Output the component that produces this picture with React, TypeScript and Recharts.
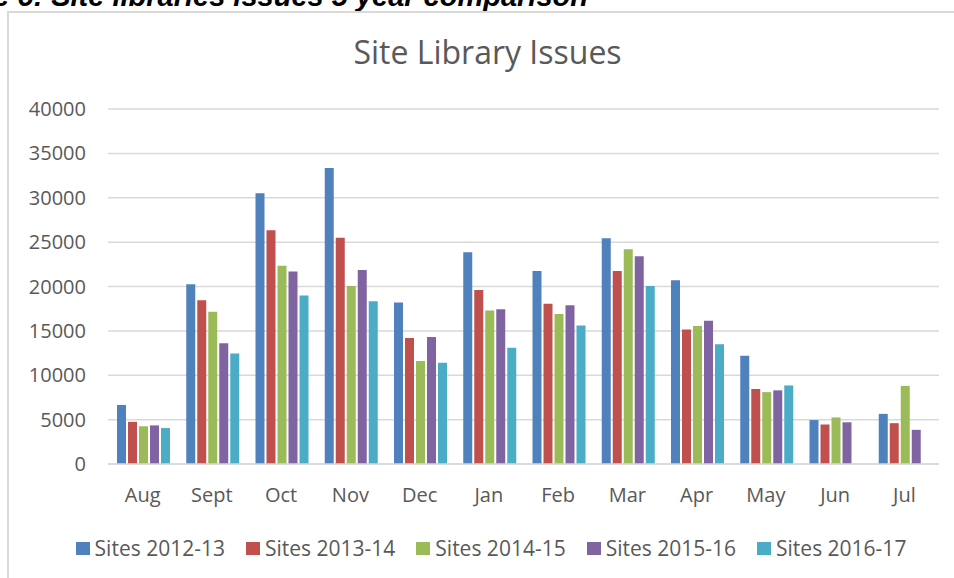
import { BarChart, Bar, XAxis, YAxis, CartesianGrid } from "recharts";

const months = ["Aug", "Sept", "Oct", "Nov", "Dec", "Jan", "Feb", "Mar", "Apr", "May", "Jun", "Jul"];

const sites201213 = [6650, 20250, 30500, 33350, 18200, 23850, 21750, 25450, 20700, 12200, 4950, 5650];
const sites201314 = [4750, 18450, 26350, 25500, 14200, 19600, 18050, 21750, 15150, 8450, 4450, 4600];
const sites201415 = [4250, 17150, 22350, 20050, 11600, 17300, 16900, 24200, 15550, 8100, 5250, 8800];
const sites201516 = [4350, 13600, 21700, 21850, 14300, 17450, 17900, 23400, 16150, 8300, 4700, 3850];
const sites201617 = [4050, 12450, 19000, 18350, 11400, 13100, 15600, 20050, 13500, 8850, null, null];

const yTicks = [0, 5000, 10000, 15000, 20000, 25000, 30000, 35000, 40000];

const SERIES = [
  { key: "s1", name: "Sites 2012-13", color: "#4F81BD", values: sites201213 },
  { key: "s2", name: "Sites 2013-14", color: "#C0504D", values: sites201314 },
  { key: "s3", name: "Sites 2014-15", color: "#9BBB59", values: sites201415 },
  { key: "s4", name: "Sites 2015-16", color: "#8064A2", values: sites201516 },
  { key: "s5", name: "Sites 2016-17", color: "#4BACC6", values: sites201617 },
];

const FONT = "'Open Sans', sans-serif";
const TEXT = "#595959";
const GRID = "#d9d9d9";

const data = months.map((month, i) => {
  const row: Record<string, string | number | null> = { month };
  SERIES.forEach((s) => {
    row[s.key] = s.values[i];
  });
  return row;
});

export default function App() {
  return (
    <div style={{ position: "absolute", left: 0, top: 0, width: 954, height: 578, overflow: "hidden", background: "#fff" }}>
      {/* caption of the page, cut off at the top */}
      <div
        style={{
          position: "absolute",
          right: 954 - 588,
          top: -20,
          whiteSpace: "nowrap",
          fontFamily: "'Liberation Sans', Arial, sans-serif",
          fontWeight: "bold",
          fontStyle: "italic",
          fontSize: 29,
          color: "#000",
        }}
      >
        Figure 6: Site libraries issues 5 year comparison
      </div>
      <div
        style={{
          position: "absolute",
          left: 7,
          top: 11,
          width: 1000,
          height: 600,
          border: `2px solid ${GRID}`,
        }}
      />
      <div
        style={{
          position: "absolute",
          left: 0,
          top: 30,
          width: 975,
          textAlign: "center",
          fontFamily: FONT,
          fontSize: 32,
          color: TEXT,
        }}
      >
        Site Library Issues
      </div>
      <div style={{ position: "absolute", left: 0, top: 0 }}>
        <BarChart
          width={954}
          height={578}
          data={data}
          margin={{ top: 109, right: 15, bottom: 84, left: 0 }}
          barCategoryGap={9}
          barGap={2}
        >
          <CartesianGrid vertical={false} stroke={GRID} strokeWidth={1.5} />
          <XAxis
            dataKey="month"
            tickLine={false}
            axisLine={{ stroke: GRID, strokeWidth: 1.5 }}
            tickMargin={18}
            tick={{ fontFamily: FONT, fontSize: 20, fill: TEXT }}
            interval={0}
          />
          <YAxis
            width={108}
            domain={[0, 40000]}
            ticks={yTicks}
            tickLine={false}
            axisLine={false}
            tickMargin={16}
            tick={{ fontFamily: FONT, fontSize: 20, fill: TEXT }}
          />
          {SERIES.map((s) => (
            <Bar key={s.key} dataKey={s.key} name={s.name} fill={s.color} isAnimationActive={false} />
          ))}
        </BarChart>
      </div>
      <div
        style={{
          position: "absolute",
          left: 8,
          top: 534,
          width: 966,
          display: "flex",
          justifyContent: "center",
          gap: 21,
          fontFamily: FONT,
          fontSize: 21,
          color: TEXT,
        }}
      >
        {SERIES.map((s) => (
          <div key={s.key} style={{ display: "flex", alignItems: "center", gap: 5 }}>
            <span style={{ display: "inline-block", width: 14, height: 13, background: s.color }} />
            <span>{s.name}</span>
          </div>
        ))}
      </div>
    </div>
  );
}
